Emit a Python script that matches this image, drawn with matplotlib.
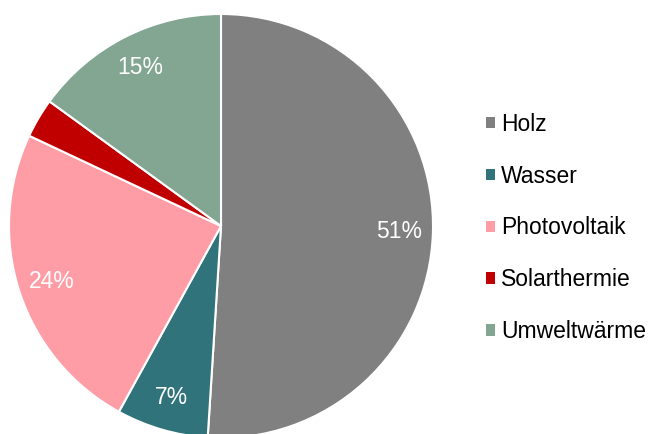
import matplotlib.pyplot as plt
from matplotlib.patches import Patch

plt.rcParams["font.family"] = ["Liberation Sans", "DejaVu Sans"]

# Anteile der erneuerbaren Energien (Prozent)
kategorien = ["Holz", "Wasser", "Photovoltaik", "Solarthermie", "Umweltwärme"]
anteile = [51, 7, 24, 3, 15]
farben = ["#808080", "#31737a", "#ff9da7", "#c00000", "#82a692"]


def prozent(p):
    # kleine Segmente ohne Beschriftung
    return f"{p:.0f}%" if p >= 5 else ""


fig = plt.figure(figsize=(6.5, 4.34), dpi=100)
ax = fig.add_axes([9 / 650, -4 / 434, 424 / 650, 424 / 434])

wedges, texts, autotexts = ax.pie(
    anteile,
    colors=farben,
    startangle=90,
    counterclock=False,
    autopct=prozent,
    pctdistance=0.84,
    wedgeprops=dict(edgecolor="white", linewidth=1.5),
    textprops=dict(color="white", fontsize=16.5),
)
ax.set_xlim(-1, 1)
ax.set_ylim(-1, 1)
ax.set_aspect("equal")

handles = [Patch(facecolor=f, edgecolor="none") for f in farben]
fig.legend(
    handles,
    kategorien,
    loc="center left",
    bbox_to_anchor=(486 / 650, 1 - 228 / 434),
    frameon=False,
    borderpad=0,
    borderaxespad=0,
    fontsize=16.5,
    handlelength=0.4,
    handleheight=0.4,
    handletextpad=0.25,
    labelspacing=1.26,
)

fig.savefig("out.png", dpi=100)
